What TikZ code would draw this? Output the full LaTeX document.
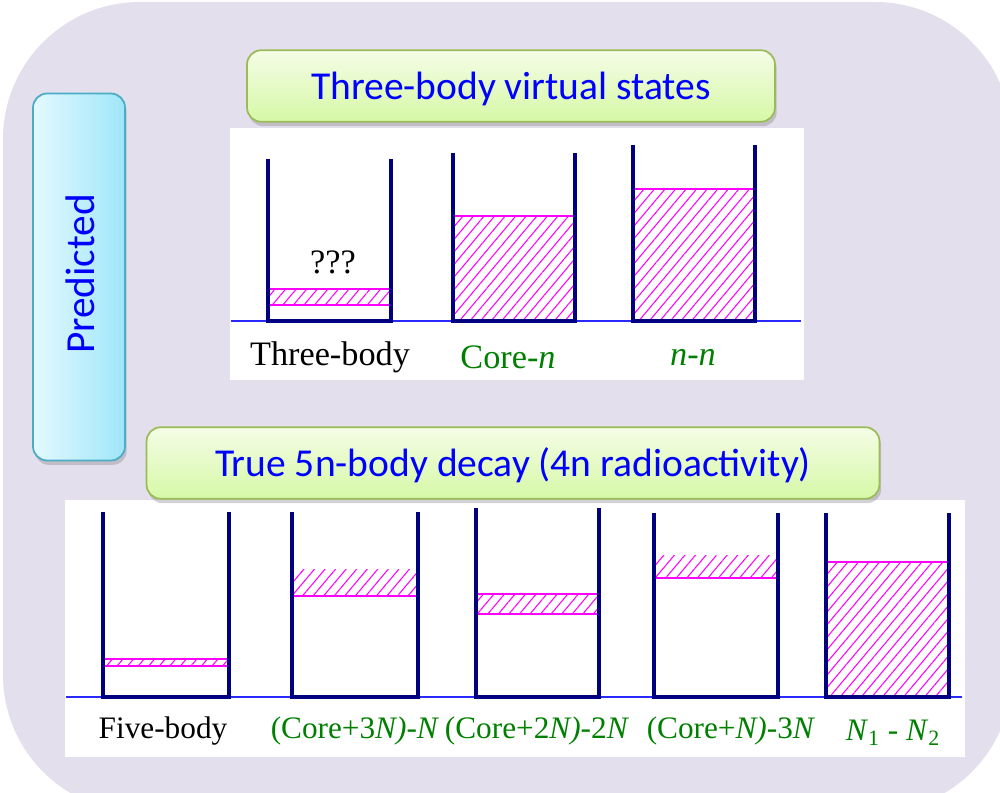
\documentclass[tikz,border=0pt]{standalone}
\usepackage{fontspec}
\setmainfont{Liberation Serif}
\newfontfamily\calibri{Carlito}
\usetikzlibrary{patterns.meta,shadows}
\definecolor{bgpurple}{RGB}{228,223,236}
\definecolor{wallblue}{RGB}{0,0,128}
\definecolor{groundblue}{RGB}{40,40,255}
\definecolor{hatchpink}{RGB}{255,0,255}
\definecolor{labgreen}{RGB}{0,128,0}
\definecolor{titleblue}{RGB}{0,0,255}
\definecolor{greentop}{RGB}{244,253,230}
\definecolor{greenbot}{RGB}{214,248,166}
\definecolor{greenedge}{RGB}{155,187,89}
\definecolor{cyanleft}{RGB}{228,249,255}
\definecolor{cyanright}{RGB}{158,230,249}
\definecolor{cyanedge}{RGB}{75,172,198}
\tikzset{
  wall/.style = {draw = wallblue, line width = 2.3pt},
  ground/.style = {draw = groundblue, line width = 0.8pt},
  hatch/.style = {pattern = {Lines[angle = 50, distance = 4.6pt, line width = 0.6pt]}, pattern color = hatchpink},
  level/.style = {draw = hatchpink, line width = 1.1pt},
  titlebox/.style = {draw = greenedge, line width = 1pt, rounded corners = 8pt,
    top color = greentop, bottom color = greenbot,
    drop shadow = {opacity = 0.35, shadow xshift = 1pt, shadow yshift = -2.5pt},
    font = \calibri\fontsize{22.5}{27}\selectfont, text = titleblue,
    text height = 0.66cm, text depth = 0.1cm, minimum height = 1.43cm},
  sidebox/.style = {draw = cyanedge, line width = 1pt, rounded corners = 8pt,
    left color = cyanleft, right color = cyanright,
    drop shadow = {opacity = 0.35, shadow xshift = 1pt, shadow yshift = -2.5pt},
    minimum width = 1.84cm, minimum height = 7.34cm},
  toplabel/.style = {font = \fontsize{19.5}{23}\selectfont},
  botlabel/.style = {font = \fontsize{17.8}{21}\selectfont}
}
\begin{document}
\begin{tikzpicture}[x = 0.02cm, y = -0.02cm]
\useasboundingbox (0,0) rectangle (1000,793);
\clip (0,0) rectangle (1000,793);
\fill[bgpurple, rounded corners = 78pt] (3,2) rectangle (1012,812);
\fill[white] (230,128) rectangle (804,380);
\fill[white] (65,500) rectangle (965,757);
\node[sidebox] (pred) at (79,277) {};
\node[rotate = 90, font = \calibri\fontsize{23.5}{28}\selectfont, text = titleblue] (predtext) at (80,274) {Predicted};
\node[titlebox, minimum width = 10.56cm] (three) at (511,86) {Three-body virtual states};
\node[titlebox, minimum width = 14.66cm] (five) at (513,463) {True 5n-body decay (4n radioactivity)};
\draw[ground] (231,321) -- (801,321);
\path[hatch] (268,289) rectangle (391,305);
\draw[level] (268,289) -- (391,289);
\draw[level] (268,305) -- (391,305);
\draw[wall] (268,159) -- (268,321) -- (391,321) -- (391,159);
\path[hatch] (453,216) rectangle (575,321);
\draw[level] (453,216) -- (575,216);
\draw[wall] (453,153) -- (453,321) -- (575,321) -- (575,153);
\path[hatch] (633,189) rectangle (755,321);
\draw[level] (633,189) -- (755,189);
\draw[wall] (633,145) -- (633,321) -- (755,321) -- (755,145);
\node[toplabel] (qqq) at (333,262) {???};
\node[toplabel] (threebody) at (330,357) {Three-body};
\node[toplabel, text = labgreen] (coren) at (508,357) {Core-\textit{n}};
\node[toplabel, text = labgreen] (nn) at (693,357) {\textit{n}-\textit{n}};
\draw[ground] (66,697) -- (962,697);
\path[hatch] (103,659) rectangle (229,666);
\draw[level] (103,659) -- (229,659);
\draw[level] (103,666) -- (229,666);
\draw[wall] (103,512) -- (103,697) -- (229,697) -- (229,512);
\path[hatch] (292,569) rectangle (418,596);
\draw[level] (292,596) -- (418,596);
\draw[wall] (292,512) -- (292,697) -- (418,697) -- (418,512);
\path[hatch] (476,594) rectangle (599,614);
\draw[level] (476,594) -- (599,594);
\draw[level] (476,614) -- (599,614);
\draw[wall] (476,508) -- (476,697) -- (599,697) -- (599,508);
\path[hatch] (654,555) rectangle (778,578);
\draw[level] (654,578) -- (778,578);
\draw[wall] (654,513) -- (654,697) -- (778,697) -- (778,513);
\path[hatch] (826,562) rectangle (949,697);
\draw[level] (826,562) -- (949,562);
\draw[wall] (826,513) -- (826,697) -- (949,697) -- (949,513);
\node[botlabel] (fivebody) at (163,731) {Five-body};
\node[botlabel, text = labgreen] (core3) at (355,731) {(Core+3\textit{N)}-\textit{N}};
\node[botlabel, text = labgreen] (core2) at (537,731) {(Core+2\textit{N)}-2\textit{N}};
\node[botlabel, text = labgreen] (core1) at (731,731) {(Core+\textit{N)}-3\textit{N}};
\node[botlabel, text = labgreen] (n1n2) at (893,733) {\textit{N}\textsubscript{1} - \textit{N}\textsubscript{2}};
\end{tikzpicture}
\end{document}
